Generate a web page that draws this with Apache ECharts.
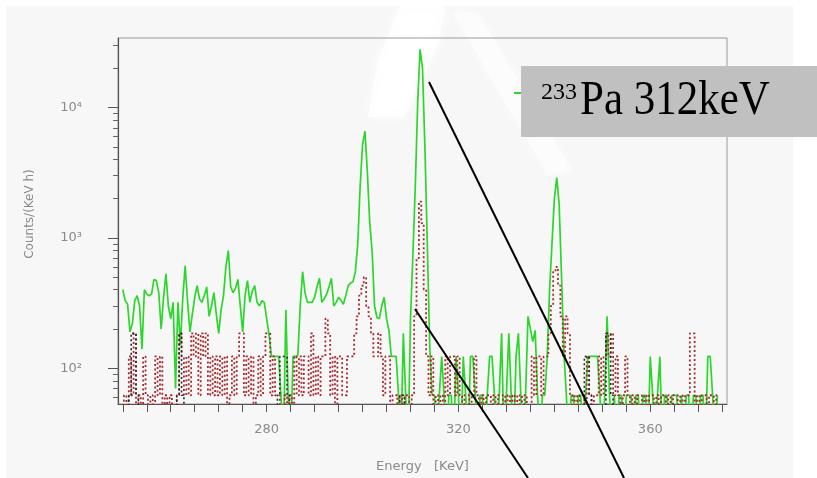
<!DOCTYPE html>
<html>
<head>
<meta charset="utf-8">
<script src="https://cdn.jsdelivr.net/npm/echarts@6/dist/echarts.min.js"></script>
<style>
  html, body { margin: 0; padding: 0; background: #fff; }
  #main { width: 817px; height: 478px; }
</style>
</head>
<body>
<div id="main"></div>
<script>
// spectrum channels: first channel energy and width (keV)
const E0 = 250, DE = 0.5;

// counts/(keV h), one value per channel (25 = empty channel, falls below the axis)
const sampleCounts = [
  400, 330, 310, 190, 220, 330, 360, 300, 140, 400,
  370, 360, 370, 480, 470, 380, 200, 350, 530, 300,
  240, 320, 70, 320, 150, 340, 610, 330, 190, 260,
  350, 430, 340, 320, 360, 420, 250, 300, 380, 260,
  185, 280, 360, 600, 800, 420, 380, 410, 480, 300,
  190, 360, 470, 320, 390, 430, 320, 300, 330, 320,
  240, 180, 123, 123, 123, 123, 60, 25, 280, 60,
  25, 123, 123, 125, 300, 550, 380, 320, 320, 320,
  350, 420, 490, 320, 340, 370, 420, 490, 300, 320,
  350, 330, 310, 360, 430, 450, 460, 550, 900, 2500,
  5200, 6600, 3200, 1300, 780, 300, 245, 240, 300, 350,
  240, 195, 123, 123, 123, 62, 25, 185, 60, 25,
  240, 750, 2500, 11000, 28000, 20000, 5000, 900, 150, 62,
  62, 25, 62, 123, 62, 25, 62, 62, 25, 123,
  62, 25, 123, 62, 25, 123, 123, 62, 25, 62,
  62, 25, 62, 123, 123, 62, 25, 62, 185, 25,
  62, 185, 62, 25, 123, 185, 62, 25, 62, 250,
  200, 160, 195, 62, 25, 62, 62, 120, 400, 900,
  2000, 2900, 1800, 500, 130, 62, 25, 62, 62, 25,
  62, 62, 25, 62, 123, 123, 123, 123, 123, 62,
  25, 62, 250, 62, 25, 62, 25, 62, 62, 25,
  62, 62, 62, 25, 62, 62, 25, 62, 62, 25,
  123, 62, 25, 62, 123, 25, 62, 62, 25, 62,
  62, 62, 25, 62, 25, 62, 62, 25, 62, 62,
  25, 62, 62, 25, 123, 123, 62, 25, 62
];

const refCounts = [
  25, 62, 25, 123, 62, 185, 25, 62, 25, 123,
  62, 25, 62, 25, 123, 62, 123, 25, 62, 25,
  62, 25, 25, 62, 185, 123, 62, 123, 62, 185,
  123, 185, 62, 185, 123, 185, 62, 123, 62, 123,
  62, 123, 62, 123, 25, 62, 123, 62, 123, 185,
  185, 62, 123, 62, 123, 25, 62, 123, 62, 123,
  185, 185, 62, 123, 62, 62, 25, 25, 62, 25,
  62, 25, 123, 62, 123, 62, 123, 123, 62, 185,
  62, 123, 62, 123, 123, 240, 185, 62, 123, 25,
  123, 123, 62, 62, 123, 123, 123, 185, 250, 360,
  430, 500, 300, 250, 185, 123, 123, 185, 123, 62,
  123, 123, 25, 62, 62, 25, 62, 25, 62, 62,
  25, 62, 250, 700, 1900, 1300, 400, 123, 62, 123,
  25, 62, 25, 62, 25, 123, 62, 123, 123, 62,
  123, 62, 25, 62, 62, 25, 62, 123, 62, 25,
  62, 25, 62, 62, 25, 62, 25, 62, 62, 25,
  62, 25, 62, 25, 62, 25, 62, 25, 62, 25,
  25, 123, 62, 123, 123, 62, 123, 123, 185, 300,
  550, 600, 430, 250, 123, 250, 185, 62, 25, 62,
  25, 62, 62, 25, 123, 62, 25, 62, 62, 123,
  62, 123, 185, 123, 185, 62, 123, 62, 25, 62,
  123, 62, 25, 62, 25, 62, 62, 25, 62, 25,
  62, 62, 25, 62, 25, 62, 62, 25, 62, 25,
  62, 62, 25, 62, 25, 62, 62, 185, 185, 25,
  62, 25, 62, 62, 25, 62, 62, 25, 62
];

const bgCounts = [
  25, 25, 25, 62, 185, 185, 62, 25, 25, 25,
  25, 25, 25, 25, 25, 25, 25, 25, 25, 25,
  25, 25, 25, 62, 185, 62, 25, 25, 25, 25,
  25, 25, 25, 25, 25, 25, 25, 25, 25, 25,
  25, 25, 25, 25, 25, 25, 25, 25, 25, 25,
  25, 25, 25, 25, 25, 25, 25, 25, 25, 25,
  25, 25, 25, 25, 25, 62, 123, 123, 123, 62,
  25, 25, 25, 25, 25, 25, 25, 25, 25, 25,
  25, 25, 25, 25, 25, 25, 25, 25, 25, 25,
  25, 25, 25, 25, 25, 25, 25, 25, 25, 25,
  25, 25, 25, 25, 25, 25, 25, 25, 25, 25,
  25, 25, 25, 25, 25, 25, 62, 62, 25, 25,
  25, 25, 25, 25, 25, 25, 25, 25, 25, 25,
  25, 25, 25, 25, 25, 25, 25, 25, 25, 25,
  25, 25, 25, 25, 25, 25, 25, 25, 25, 25,
  25, 25, 25, 25, 25, 25, 25, 25, 25, 25,
  25, 25, 25, 25, 25, 25, 25, 25, 25, 25,
  25, 25, 25, 25, 25, 25, 25, 25, 25, 25,
  25, 25, 25, 25, 25, 25, 25, 25, 25, 25,
  25, 25, 25, 123, 123, 62, 25, 25, 25, 25,
  25, 25, 185, 185, 62, 25, 25, 25, 25, 25,
  25, 25, 25, 25, 25, 25, 25, 25, 25, 25,
  25, 25, 25, 25, 25, 25, 25, 25, 25, 25,
  25, 25, 25, 25, 25, 25, 25, 25, 25, 25,
  25, 25, 25, 25, 25, 25, 25, 25, 25
];

const xTicks = [250, 255, 260, 265, 270, 275, 280, 285, 290, 295, 300, 305, 310,
  315, 320, 325, 330, 335, 340, 345, 350, 355, 360, 365, 370, 375];
const xLabels = [280, 320, 360];
const yMajor = [100, 1000, 10000];
const yMinor = [60, 70, 80, 90, 200, 300, 400, 500, 600, 700, 800, 900,
  2000, 3000, 4000, 5000, 6000, 7000, 8000, 9000, 20000, 30000];
const yLabelText = { 2: '10²', 3: '10³', 4: '10⁴' };

function toPairs(vals) {
  return vals.map(function (v, i) { return [E0 + i * DE, v]; });
}

const chart = echarts.init(document.getElementById('main'));

const axisGray = '#8a8a8a';
const yRange = { min: 53.1, max: 34200 };

chart.setOption({
  animation: false,
  backgroundColor: '#ffffff',
  grid: {
    left: 118, top: 38, right: 90, bottom: 72,
    show: true, borderColor: '#9a9a9a', borderWidth: 1,
    backgroundColor: 'transparent'
  },
  xAxis: {
    type: 'value', min: 249, max: 376,
    axisLine: { lineStyle: { color: '#555', width: 1.2 } },
    axisTick: { customValues: xTicks, length: 8, lineStyle: { color: '#555' } },
    axisLabel: {
      customValues: xLabels, color: axisGray, fontSize: 13, margin: 19,
      fontFamily: 'DejaVu Sans'
    },
    splitLine: { show: false },
    name: 'Energy   [KeV]', nameLocation: 'middle', nameGap: 56,
    nameTextStyle: { color: axisGray, fontSize: 13, fontFamily: 'DejaVu Sans' }
  },
  yAxis: [{
    type: 'log', logBase: 10, min: yRange.min, max: yRange.max, position: 'left',
    axisLine: { show: true, lineStyle: { color: '#555', width: 1.2 } },
    axisTick: { customValues: yMajor, length: 10, lineStyle: { color: '#555' } },
    axisLabel: {
      customValues: yMajor, color: axisGray, fontSize: 13, margin: 36,
      fontFamily: 'DejaVu Sans',
      formatter: function (v) { return yLabelText[Math.round(Math.log10(v))]; }
    },
    splitLine: { show: false },
    name: 'Counts/(KeV h)', nameLocation: 'middle', nameGap: 82, nameRotate: 90,
    nameTextStyle: { color: axisGray, fontSize: 12, fontFamily: 'DejaVu Sans', padding: [0, 0, 0, 14] }
  }, {
    type: 'log', logBase: 10, min: yRange.min, max: yRange.max, position: 'left',
    axisLine: { show: false },
    axisTick: { customValues: yMinor, length: 5, lineStyle: { color: '#666' } },
    axisLabel: { show: false },
    splitLine: { show: false }
  }],
  series: [{
    name: 'sample', type: 'line', data: toPairs(sampleCounts), yAxisIndex: 0,
    symbol: 'none', clip: true, z: 3,
    lineStyle: { color: '#2cd62c', width: 1.7 }
  }, {
    name: 'reference', type: 'line', data: toPairs(refCounts), yAxisIndex: 0,
    symbol: 'none', step: 'middle', clip: true, z: 4,
    lineStyle: { color: '#a8292e', width: 1.8, type: [2, 2.5] }
  }, {
    name: 'background', type: 'line', data: toPairs(bgCounts), yAxisIndex: 0,
    symbol: 'none', step: 'middle', clip: true, z: 5,
    lineStyle: { color: '#2a2a2a', width: 1.6, type: [2, 2.5] }
  }],
  graphic: [
    { type: 'rect', silent: true, z: -10, shape: { x: 6, y: 6, width: 787, height: 472 }, style: { fill: '#f7f7f7' } },
    // faint white smears of the scanned figure
    { type: 'polygon', silent: true, z: -9,
      shape: { points: [[400, 6], [446, 6], [438, 45], [404, 117], [368, 117], [378, 60]] },
      style: { fill: 'rgba(255,255,255,0.75)', shadowBlur: 12, shadowColor: '#ffffff' } },
    { type: 'polygon', silent: true, z: -9,
      shape: { points: [[452, 12], [478, 12], [572, 170], [548, 176]] },
      style: { fill: 'rgba(255,255,255,0.45)', shadowBlur: 12, shadowColor: '#ffffff' } },
    { type: 'line', silent: true, z: 100, shape: { x1: 429, y1: 82, x2: 624, y2: 478 }, style: { stroke: '#000', lineWidth: 2 } },
    { type: 'line', silent: true, z: 100, shape: { x1: 415, y1: 309, x2: 528, y2: 478 }, style: { stroke: '#000', lineWidth: 2 } },
    { type: 'line', silent: true, z: 100, shape: { x1: 514, y1: 93, x2: 522, y2: 93 }, style: { stroke: '#2cd62c', lineWidth: 2 } },
    { type: 'rect', silent: true, z: 101, shape: { x: 521, y: 66, width: 296, height: 71 }, style: { fill: '#c0c0c0' } },
    { type: 'text', silent: true, z: 102, x: 541, y: 93,
      style: { text: '233', font: '24px "Liberation Serif"', fill: '#000', verticalAlign: 'middle' } },
    { type: 'text', silent: true, z: 102, x: 580, y: 101.5, scaleY: 1.15,
      style: { text: 'Pa 312keV', font: '43px "Liberation Serif"', fill: '#000', verticalAlign: 'middle' } }
  ]
});
</script>
</body>
</html>
